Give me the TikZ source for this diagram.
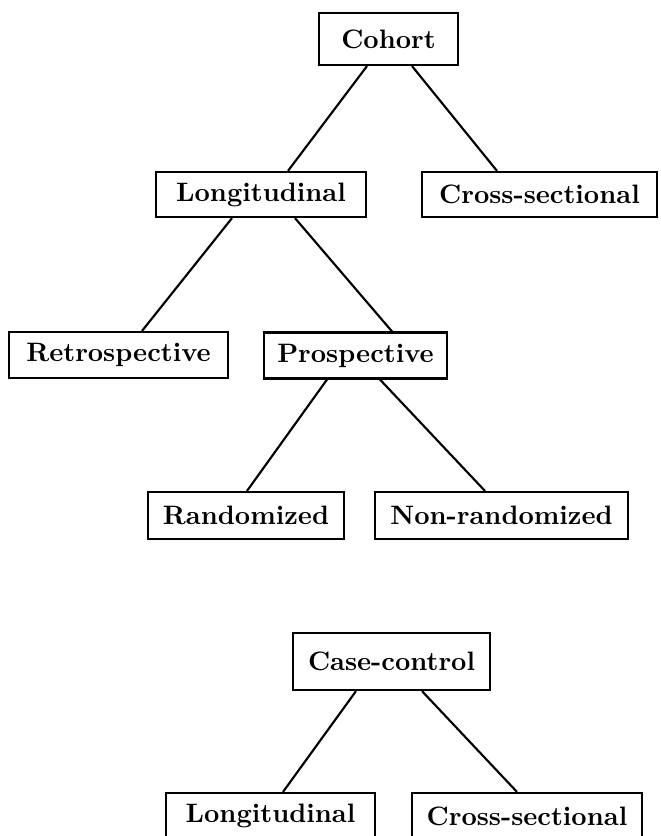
\documentclass[tikz,border=0pt]{standalone}
\usepackage{tikz}
\usetikzlibrary{calc}
\tikzset{
	studybox/.style={draw, line width=0.8pt, inner sep=0pt, font=\bfseries, minimum height=17.25pt}
}
\tikzset{
	branch/.style={line width=0.8pt}
}

\begin{document}
\begin{tikzpicture}[x=0.375pt, y=-0.375pt]
      \useasboundingbox (0,0) rectangle (660,836);
      % cohort tree
      \node[studybox, minimum width=52.1pt, minimum height=19.5pt] (cohort) at (388.5,39) {Cohort};
      \node[studybox, minimum width=78.75pt, minimum height=16.9pt] (longa) at (261,194.5) {Longitudinal};
      \node[studybox, minimum width=88.1pt, minimum height=16.9pt] (crossa) at (539.5,194.5) {Cross-sectional};
      \node[studybox, minimum width=82.1pt] (retro) at (118.5,355) {Retrospective};
      \node[studybox, minimum width=68.6pt] (prosp) at (355.5,355.5) {Prospective};
      \node[studybox, minimum width=73.5pt, minimum height=17.6pt] (rand) at (246,515.5) {Randomized};
      \node[studybox, minimum width=94.9pt, minimum height=17.6pt] (nonrand) at (501.5,515.5) {Non-randomized};
      \draw[branch] ($(cohort.south)+(-21.5,0)$) -- ($(longa.north)+(27,0)$);
      \draw[branch] ($(cohort.south)+(23.5,0)$) -- ($(crossa.north)+(-42.5,0)$);
      \draw[branch] ($(longa.south)+(-29,0)$) -- ($(retro.north)+(23.5,0)$);
      \draw[branch] ($(longa.south)+(34,0)$) -- ($(prosp.north)+(36.5,0)$);
      \draw[branch] ($(prosp.south)+(-28.5,0)$) -- ($(rand.north)+(1,0)$);
      \draw[branch] ($(prosp.south)+(24.5,0)$) -- ($(nonrand.north)+(-16.5,0)$);
      % case-control tree
      \node[studybox, minimum width=73.9pt, minimum height=21.4pt] (case) at (391.5,661.5) {Case-control};
      \node[studybox, minimum width=78.4pt] (longb) at (270.5,816) {Longitudinal};
      \node[studybox, minimum width=86.25pt] (crossb) at (527,816) {Cross-sectional};
      \draw[branch] ($(case.south)+(-35.5,0)$) -- ($(longb.north)+(12.5,0)$);
      \draw[branch] ($(case.south)+(30.5,0)$) -- ($(crossb.north)+(-10,0)$);
\end{tikzpicture}
\end{document}
